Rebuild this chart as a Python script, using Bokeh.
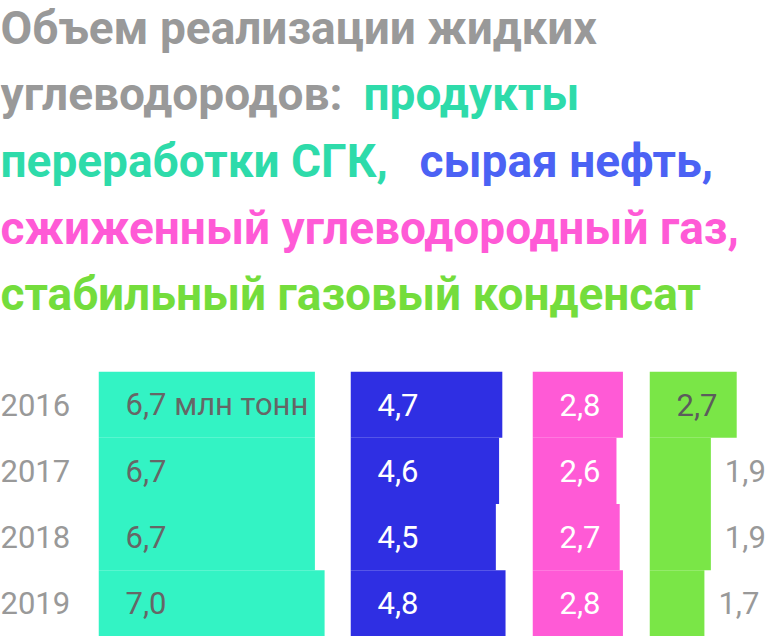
from bokeh.plotting import figure
from bokeh.models import Range1d, FactorRange, Label, ColumnDataSource
from bokeh.layouts import column, row
from bokeh.embed import file_html
from bokeh.resources import INLINE
from bokeh.core.properties import value

# ---------------- data ----------------
years = ["2016", "2017", "2018", "2019"]
condensate_products = [6.7, 6.7, 6.7, 7.0]   # продукты переработки СГК
crude_oil = [4.7, 4.6, 4.5, 4.8]             # сырая нефть
lpg = [2.8, 2.6, 2.7, 2.8]                   # сжиженный углеводородный газ
stable_condensate = [2.7, 1.9, 1.9, 1.7]     # стабильный газовый конденсат
unit_label = " млн тонн"

title_lines = [
    [("Объем реализации жидких", "#999999")],
    [("углеводородов: ", "#999999"), ("продукты", "#2EDBAA")],
    [("переработки СГК, ", "#2EDBAA"), ("сырая нефть,", "#4B62F4")],
    [("сжиженный углеводородный газ,", "#FF5AD6")],
    [("стабильный газовый конденсат", "#74DD3C")],
]

# ---------------- styling / layout ----------------
SCALE = 32.3            # pixels per million tonnes
ROW_H = 265
TITLE_H = 371
W = 768
NUM_FONT = value("Roboto")
NUM_SIZE = "31px"
TITLE_FONT = "Roboto"
TITLE_SIZE = "46px"

series = [
    (condensate_products, "#33F3C4", "#666666", 252),
    (crude_oil, "#2F2FE3", "#FFFFFF", 182),
    (lpg, "#FF5AD6", "#FFFFFF", 117),
    (stable_condensate, "#7AE647", "#5C5C5C", 119),
]


def bare(p):
    p.axis.visible = False
    p.grid.visible = False
    p.outline_line_color = None
    p.background_fill_color = "white"
    p.border_fill_color = "white"
    p.min_border = 0
    return p


# ---------------- title ----------------
tp = bare(figure(width=W, height=TITLE_H, output_backend="svg", toolbar_location=None,
                 x_range=Range1d(0, W), y_range=Range1d(0, TITLE_H)))
seg_x = {(1, 1): 363, (2, 1): 419}
mid_lines = [27, 93.7, 160.3, 227, 293.7]
for li, segs in enumerate(title_lines):
    for si, (txt, col) in enumerate(segs):
        tp.add_layout(Label(x=seg_x.get((li, si), 0), y=TITLE_H - mid_lines[li],
                            x_units="screen", y_units="screen", text=txt,
                            text_color=col, text_font=TITLE_FONT, text_font_size=TITLE_SIZE,
                            text_font_style="bold", text_baseline="middle",
                            text_align="left"))

# ---------------- year labels ----------------
yp = bare(figure(width=98, height=ROW_H, output_backend="svg", toolbar_location=None,
                 x_range=Range1d(0, 98), y_range=FactorRange(*years[::-1], range_padding=0)))
yp.text(x=[0] * len(years), y=years, text=years, text_font=NUM_FONT, text_font_size=NUM_SIZE,
        text_color="#999999", text_align="left", text_baseline="middle")

# ---------------- bar columns ----------------
cols = [yp]
for si, (vals, bar_col, lab_col, w) in enumerate(series):
    p = bare(figure(width=w, height=ROW_H, output_backend="svg", toolbar_location=None,
                    x_range=Range1d(0, w / SCALE),
                    y_range=FactorRange(*years[::-1], range_padding=0)))
    p.hbar(y=years, left=0, right=vals, height=1.0, fill_color=bar_col, line_color=None)
    texts, xs, offs, colors = [], [], [], []
    for i, v in enumerate(vals):
        t = f"{v:.1f}".replace(".", ",")
        if si == 0 and i == 0:
            t += unit_label
        texts.append(t)
        inside = v >= 2.0
        xs.append(0 if inside else v)
        offs.append(27 if inside else 14)
        colors.append(lab_col if inside else "#999999")
    src = ColumnDataSource(dict(x=xs, y=years, text=texts, off=offs, color=colors))
    p.text(x="x", y="y", text="text", x_offset="off", text_color="color", source=src,
           text_font=NUM_FONT, text_font_size=NUM_SIZE, text_align="left",
           text_baseline="middle")
    cols.append(p)

layout = column(tp, row(*cols, spacing=0), spacing=0)
open("out.html", "w").write(file_html(layout, INLINE))
